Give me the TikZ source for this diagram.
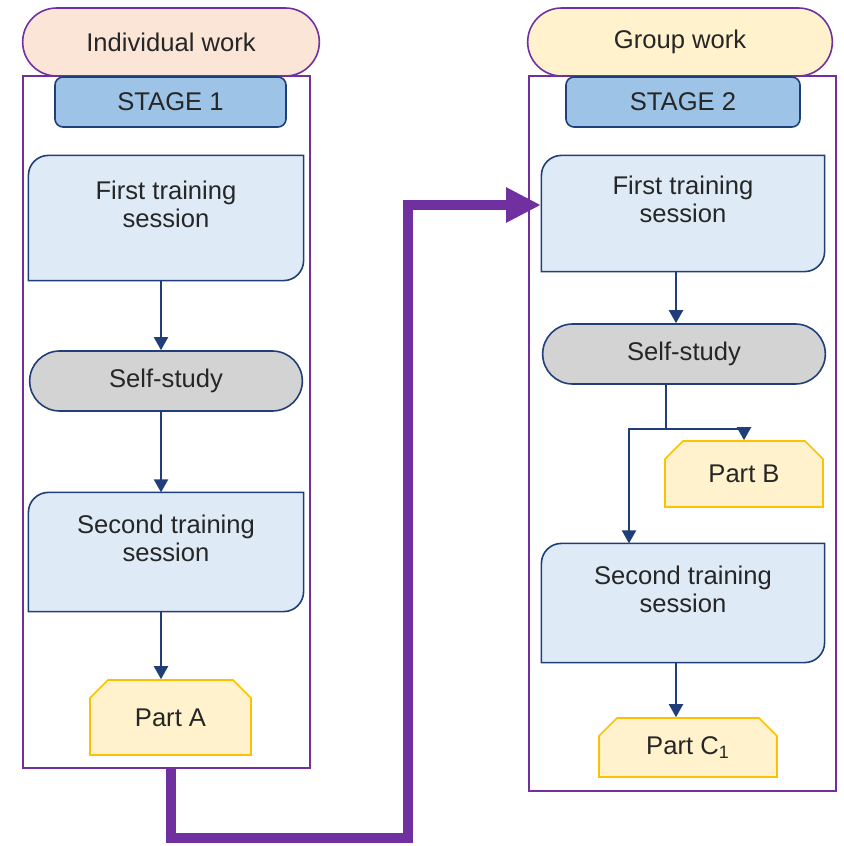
\documentclass[tikz,border=0pt]{standalone}
\usepackage{fontspec}
\setmainfont{Liberation Sans}
\usetikzlibrary{shapes.misc,arrows.meta,backgrounds}
\definecolor{frameviolet}{HTML}{7030A0}
\definecolor{peach}{HTML}{FBE5D6}
\definecolor{paleyellow}{HTML}{FFF2CC}
\definecolor{gold}{HTML}{FFC000}
\definecolor{stageblue}{HTML}{9DC3E6}
\definecolor{sessionblue}{HTML}{DEEBF7}
\definecolor{navyline}{HTML}{203F7A}
\definecolor{studygrey}{HTML}{D3D3D3}
\definecolor{inkgrey}{HTML}{262626}
\tikzstyle{mode} = [rounded rectangle, draw=frameviolet, line width=0.8pt, minimum height=34pt]
\tikzstyle{frame} = [rectangle, draw=frameviolet, line width=0.8pt]
\tikzstyle{stage} = [rectangle, rounded corners=4pt, draw=navyline, fill=stageblue, line width=0.8pt, minimum height=25pt]
\tikzstyle{session} = [rectangle, align=center]
\tikzstyle{sessionline} = [draw=navyline, fill=sessionblue, line width=0.8pt]
\tikzstyle{study} = [rounded rectangle, draw=navyline, fill=studygrey, line width=0.8pt, minimum height=30pt]
\tikzstyle{part} = [chamfered rectangle, chamfered rectangle corners={north west,north east}, chamfered rectangle xsep=4.5pt, chamfered rectangle ysep=4.5pt, draw=gold, fill=paleyellow, line width=0.8pt]

\begin{document}
\begin{tikzpicture}[x=0.5pt,y=-0.5pt,>={Triangle[width=7pt,length=6.5pt]},semithick,
    font=\fontsize{12.8}{14}\selectfont, text=inkgrey]
  \useasboundingbox (0,0) rectangle (843,846);
  \tikzset{flow/.style={->, draw=navyline, line width=1pt}}

  % stage 1
  \node[frame, minimum width=143.5pt, minimum height=346pt] (box1) at (166.5,422) {};
  \node[mode, fill=peach, minimum width=155pt] (indiv) at (171,42) {Individual work};
  \node[stage, minimum width=115.5pt] (stage1) at (170.5,102) {STAGE 1};
  \node[session, minimum width=137pt, minimum height=62pt] (f1) at (166,218) {First training\\session\\\mbox{}};
  \node[study, minimum width=143pt] (ss1) at (166,381) {Self-study};
  \node[session, minimum width=137pt, minimum height=59pt] (s1) at (166,552) {Second training\\session\\\mbox{}};
  \node[part, minimum width=80.5pt, minimum height=37.5pt] (partA) at (170.5,717.5) {Part A};

  % stage 2
  \node[frame, minimum width=153.5pt, minimum height=357.5pt] (box2) at (682.5,433.5) {};
  \node[mode, fill=paleyellow, minimum width=159pt] (group) at (680,42) {Group work};
  \node[stage, minimum width=117pt] (stage2) at (683,102) {STAGE 2};
  \node[session, minimum width=141pt, minimum height=57.5pt] (f2) at (683,213.5) {First training\\session\\\mbox{}};
  \node[study, minimum width=148pt] (ss2) at (684,354) {Self-study};
  \node[part, minimum width=79pt, minimum height=33pt] (partB) at (744,474) {Part B};
  \node[session, minimum width=141pt, minimum height=59pt] (s2) at (683,603) {Second training\\session\\\mbox{}};
  \node[part, minimum width=89pt, minimum height=29.5pt] (partC) at (688,747.5) {Part C\textsubscript{1}};

  % session boxes: only two corners rounded
  \begin{scope}[on background layer]
    \foreach \n in {f1,s1,f2,s2}
      \draw[sessionline] (\n.south west) -- ([yshift=-10pt]\n.north west)
        arc[start angle=180, end angle=90, radius=10pt] -- (\n.north east)
        -- ([yshift=10pt]\n.south east) arc[start angle=0, end angle=-90, radius=10pt] -- cycle;
  \end{scope}

  \draw[flow] ([xshift=-2.5pt]f1.south) -- ([xshift=-2.5pt]ss1.north);
  \draw[flow] ([xshift=-2.5pt]ss1.south) -- ([xshift=-2.5pt]s1.north);
  \draw[flow] ([xshift=-2.5pt]s1.south) -- ([xshift=-2.5pt]s1.south |- partA.north);

  \coordinate (fork) at ([xshift=-9pt,yshift=-22pt]ss2.south);
  \draw[flow] ([xshift=-3.5pt]f2.south) -- ([xshift=-3.5pt]f2.south |- ss2.north);
  \draw[flow] ([xshift=-9pt]ss2.south) -- (fork) -| (partB.north);
  \draw[flow] (fork) -| ([xshift=-27pt]s2.north);
  \draw[flow] ([xshift=-3.5pt]s2.south) -- ([xshift=-3.5pt]s2.south |- partC.north);

  % hand-over from stage 1 to stage 2
  \coordinate (turn) at (408,838);
  \coordinate (tip) at (541,205);
  \draw[frameviolet, line width=5pt, line join=miter, -{Triangle[width=16.5pt,length=17.5pt]}]
    (partA |- box1.south) |- (turn) |- (tip);
\end{tikzpicture}
\end{document}
